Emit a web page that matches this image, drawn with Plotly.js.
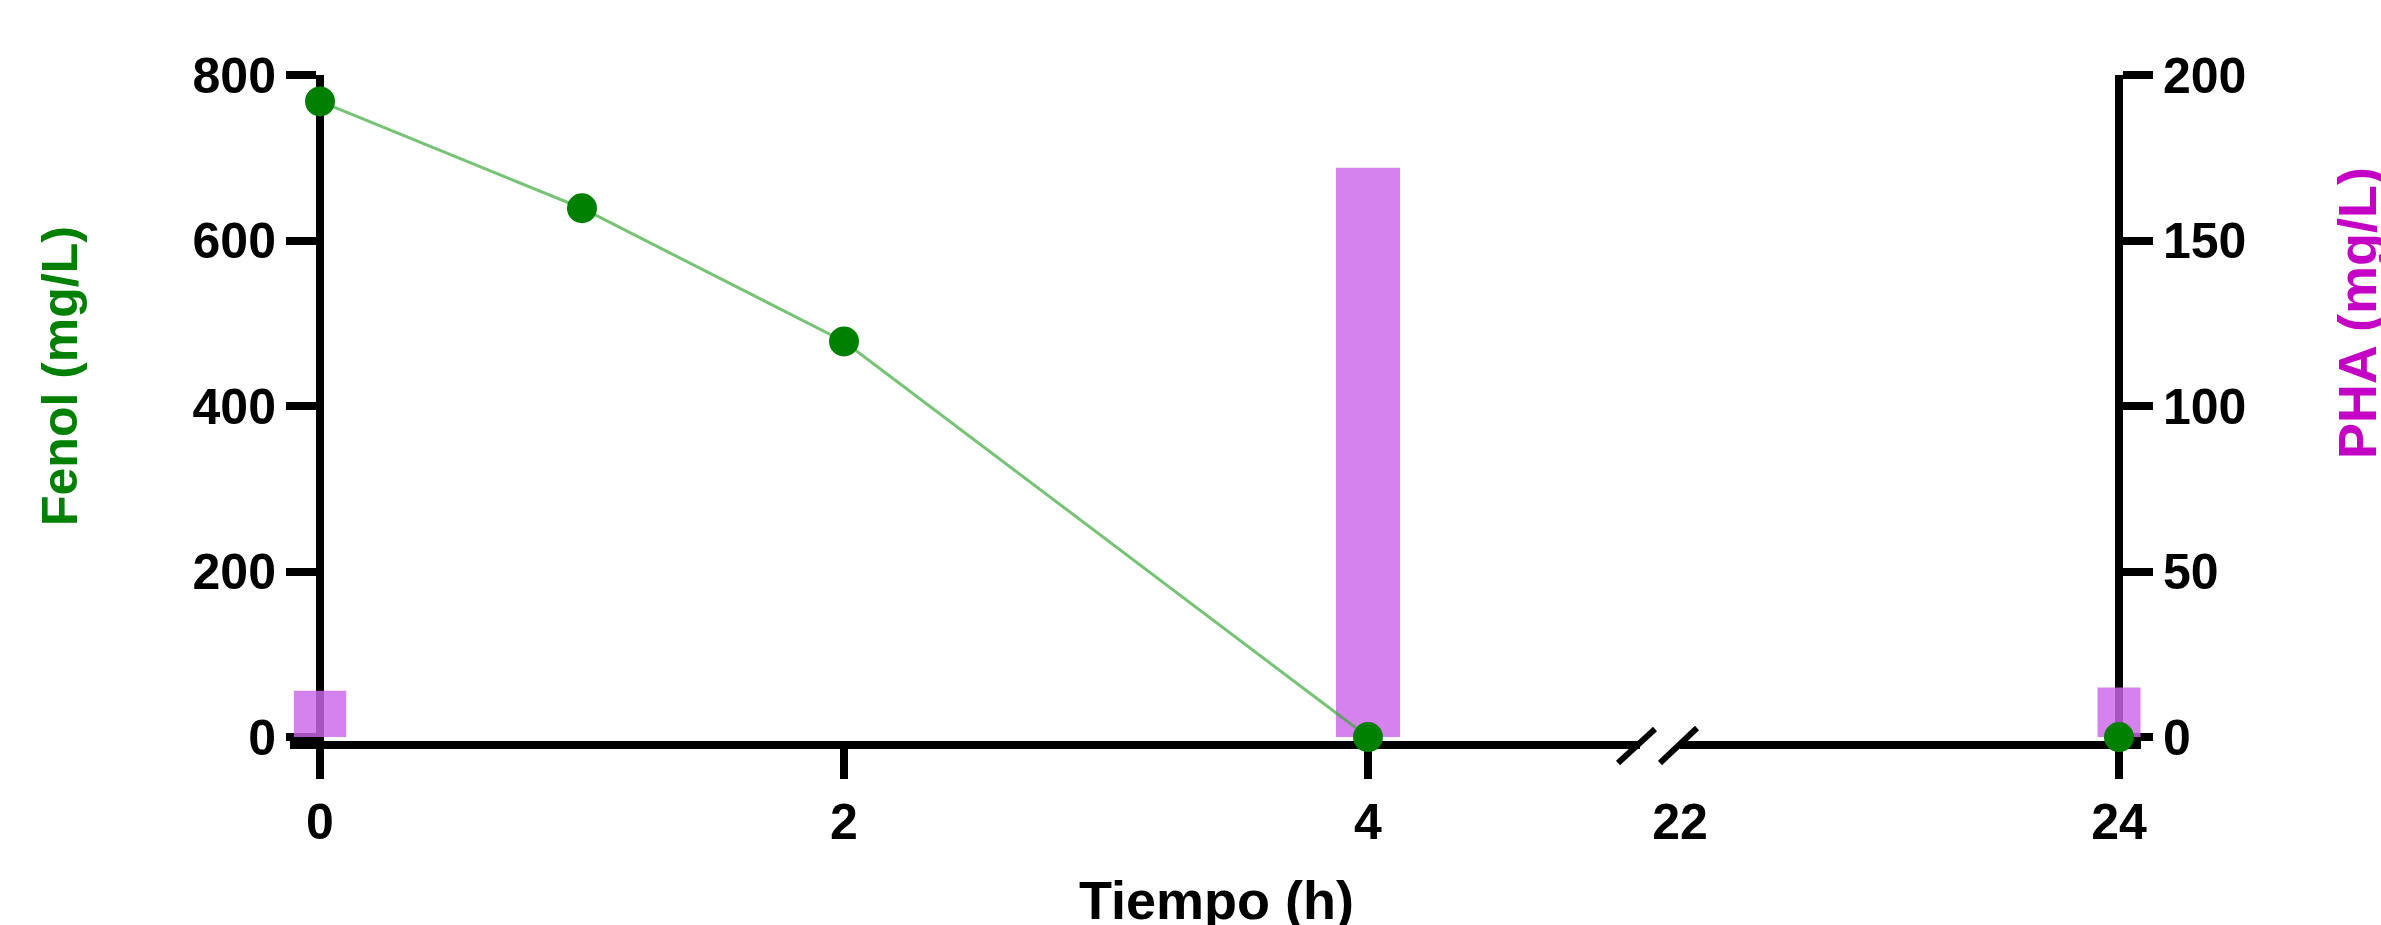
<!DOCTYPE html>
<html>
<head>
<meta charset="utf-8">
<script src="https://cdn.plot.ly/plotly-3.0.1.min.js"></script>
<style>html,body{margin:0;padding:0;background:#fff;}#chart{width:2381px;height:925px;}</style>
</head>
<body>
<div id="chart"></div>
<script>
// ---- data ----
var tiempoIzq = [0, 1, 2, 4];          // h (left segment)
var fenolIzq = [768, 639, 478, 0];      // mg/L
var tiempoDer = [24];                   // h (right segment)
var fenolDer = [0];
var phaTiempoIzq = [0, 4];
var phaIzq = [14, 172];                 // mg/L
var phaTiempoDer = [24];
var phaDer = [15];
var ticksIzq = [0, 2, 4];
var ticksDer = [22, 24];
var ticksFenol = [0, 200, 400, 600, 800];
var ticksPHA = [0, 50, 100, 150, 200];

// ---- style ----
var W = 2381, H = 925;
function px(x){ return x / W; }
function py(y){ return 1 - y / H; }
var FONT = 'Liberation Sans, Arial, sans-serif';
var GREEN = '#008000';
var PURPLE = 'rgba(204,102,236,0.82)';
var MAG = '#c400c4';
var tickFont = {family: FONT, size: 50, color: '#000', weight: 'bold'};

var axCommon = {
  showline: true, linewidth: 8, linecolor: '#000',
  ticks: 'outside', ticklen: 30, tickwidth: 8, tickcolor: '#000',
  showgrid: false, zeroline: false, tickfont: tickFont,
  layer: 'below traces', fixedrange: true
};

var traces = [
  {type: 'bar', x: phaTiempoIzq, y: phaIzq, xaxis: 'x', yaxis: 'y',
   width: [0.2, 0.245], marker: {color: PURPLE, line: {width: 0}}, hoverinfo: 'skip'},
  {type: 'bar', x: phaTiempoDer, y: phaDer, xaxis: 'x2', yaxis: 'y',
   width: [0.196], marker: {color: PURPLE, line: {width: 0}}, hoverinfo: 'skip'},
  {type: 'scatter', mode: 'lines+markers', x: tiempoIzq, y: fenolIzq, xaxis: 'x', yaxis: 'y2',
   line: {color: 'rgba(60,170,60,0.7)', width: 3},
   marker: {color: GREEN, size: 30}, cliponaxis: false, hoverinfo: 'skip'},
  {type: 'scatter', mode: 'markers', x: tiempoDer, y: fenolDer, xaxis: 'x2', yaxis: 'y2',
   marker: {color: GREEN, size: 30}, cliponaxis: false, hoverinfo: 'skip'}
];

var layout = {
  width: W, height: H,
  margin: {l: 0, r: 0, t: 0, b: 0, pad: 0},
  paper_bgcolor: '#fff', plot_bgcolor: 'rgba(0,0,0,0)',
  showlegend: false, barmode: 'overlay', hovermode: false,
  xaxis: Object.assign({}, axCommon, {
    domain: [px(290), px(1640)], anchor: 'y',
    range: [-30/262, (1640-320)/262],
    tickmode: 'array', tickvals: ticksIzq, ticktext: ticksIzq.map(String)
  }),
  xaxis2: Object.assign({}, axCommon, {
    domain: [px(1680), px(2141)], anchor: 'y',
    range: [22, 24 + 22/219.5],
    tickmode: 'array', tickvals: ticksDer, ticktext: ticksDer.map(String),
    tickcolor: 'rgba(0,0,0,0)',
    minor: {tickmode: 'array', tickvals: [24], ticks: 'outside', ticklen: 30, tickwidth: 8, tickcolor: '#000', showgrid: false}
  }),
  yaxis: Object.assign({}, axCommon, {
    domain: [py(741), py(75)], anchor: 'free', position: px(2119), side: 'right',
    range: [-4/3.35, 200],
    tickmode: 'array', tickvals: ticksPHA, ticktext: ticksPHA.map(String)
  }),
  yaxis2: Object.assign({}, axCommon, {
    domain: [py(741), py(75)], anchor: 'free', position: px(320), side: 'left',
    overlaying: 'y',
    range: [-4/0.8375, 800],
    tickmode: 'array', tickvals: ticksFenol, ticktext: ticksFenol.map(String)
  }),
  annotations: [
    {text: 'Fenol (mg/L)', xref: 'paper', yref: 'paper', x: px(60), y: py(376),
     xanchor: 'center', yanchor: 'middle', textangle: -90, showarrow: false,
     font: {family: FONT, size: 50, color: GREEN, weight: 'bold'}},
    {text: 'PHA (mg/L)', xref: 'paper', yref: 'paper', x: px(2357), y: py(313),
     xanchor: 'center', yanchor: 'middle', textangle: -90, showarrow: false,
     font: {family: FONT, size: 54, color: MAG, weight: 'bold'}},
    {text: 'Tiempo (h)', xref: 'paper', yref: 'paper', x: px(1216), y: py(900),
     xanchor: 'center', yanchor: 'middle', showarrow: false,
     font: {family: FONT, size: 54, color: '#000', weight: 'bold'}}
  ],
  shapes: [
    {type: 'line', xref: 'paper', yref: 'paper', x0: px(1618), y0: py(763), x1: px(1655), y1: py(729),
     line: {color: '#000', width: 6}},
    {type: 'line', xref: 'paper', yref: 'paper', x0: px(1660), y0: py(763), x1: px(1697), y1: py(728),
     line: {color: '#000', width: 6}}
  ]
};

Plotly.newPlot('chart', traces, layout, {displayModeBar: false, staticPlot: true});
</script>
</body>
</html>
